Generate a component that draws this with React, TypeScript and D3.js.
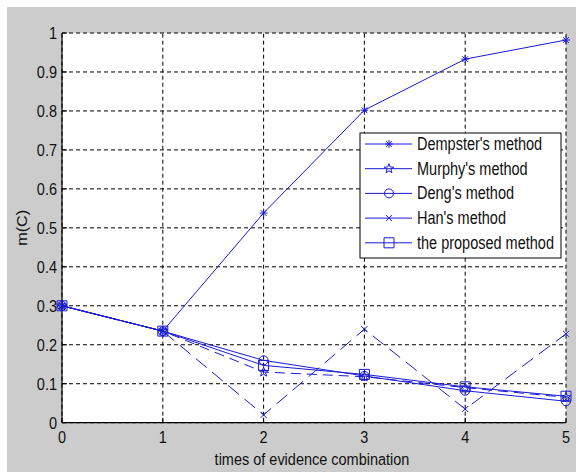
import React from "react";
import * as d3 from "d3";

const steps = [0, 1, 2, 3, 4, 5];
const yTicks = [0, 0.1, 0.2, 0.3, 0.4, 0.5, 0.6, 0.7, 0.8, 0.9, 1];
const dempster = [0.3, 0.235, 0.538, 0.802, 0.933, 0.982];
const murphy = [0.3, 0.235, 0.13, 0.118, 0.09, 0.065];
const deng = [0.3, 0.235, 0.16, 0.12, 0.082, 0.055];
const han = [0.3, 0.235, 0.02, 0.24, 0.035, 0.228];
const proposed = [0.3, 0.235, 0.147, 0.124, 0.092, 0.068];
const seriesNames = ["Dempster's method", "Murphy's method", "Deng's method", "Han's method", "the proposed method"];

const W = 576, H = 472;
const BLUE = "#1a1ad6";
const FONT = "'Liberation Sans', Arial, sans-serif";
const SY = 1.12;

function markerPath(kind: string, s: number): string {
  switch (kind) {
    case "asterisk": {
      const r = s / 2, d = r * 0.72;
      return `M0,${-r}L0,${r}M${-r},0L${r},0M${-d},${-d}L${d},${d}M${-d},${d}L${d},${-d}`;
    }
    case "x": {
      const r = s / 2;
      return `M${-r},${-r}L${r},${r}M${-r},${r}L${r},${-r}`;
    }
    case "circle": {
      const r = s / 2;
      return `M${r},0A${r},${r} 0 1,1 ${-r},0A${r},${r} 0 1,1 ${r},0Z`;
    }
    case "square": {
      const r = s / 2;
      return `M${-r},${-r}H${r}V${r}H${-r}Z`;
    }
    case "star": {
      const R = s / 2, r = R * 0.42;
      const pts: string[] = [];
      for (let i = 0; i < 10; i++) {
        const a = -Math.PI / 2 + (i * Math.PI) / 5;
        const rr = i % 2 === 0 ? R : r;
        pts.push(`${(rr * Math.cos(a)).toFixed(2)},${(rr * Math.sin(a)).toFixed(2)}`);
      }
      return "M" + pts.join("L") + "Z";
    }
  }
  return "";
}

const series = [
  { name: seriesNames[0], values: dempster, marker: "asterisk", size: 8, dash: "" },
  { name: seriesNames[1], values: murphy, marker: "star", size: 10, dash: "10,6" },
  { name: seriesNames[2], values: deng, marker: "circle", size: 9, dash: "" },
  { name: seriesNames[3], values: han, marker: "x", size: 6, dash: "14,7" },
  { name: seriesNames[4], values: proposed, marker: "square", size: 10, dash: "" },
];

export default function App() {
  const x = d3.scaleLinear().domain([0, 5]).range([62, 566]);
  const y = d3.scaleLinear().domain([0, 1]).range([422.7, 33]);
  const line = d3
    .line<number>()
    .x((_, i) => x(steps[i]))
    .y((d) => y(d));

  const legX = 360, legY = 133, legW = 201, legH = 125;
  const rowY = (i: number) => 144 + i * 24.7;

  return (
    <svg
      width={W}
      height={H}
      style={{ position: "absolute", left: 0, top: 0, display: "block" }}
      fontFamily={FONT}
    >
      <rect x={0} y={0} width={W} height={H} fill="#ffffff" />
      <rect x={7} y={7} width={W - 7} height={H - 7} fill="#cccccc" />
      <rect x={x(0)} y={y(1)} width={x(5) - x(0)} height={y(0) - y(1)} fill="#ffffff" />

      {/* grid */}
      {yTicks.map((t) => (
        <line key={"gy" + t} x1={x(0)} x2={x(5)} y1={y(t)} y2={y(t)} stroke="#000" strokeWidth={1} strokeDasharray="4,3" />
      ))}
      {steps.map((t) => (
        <line key={"gx" + t} x1={x(t)} x2={x(t)} y1={y(0)} y2={y(1)} stroke="#000" strokeWidth={1} strokeDasharray="4,3" />
      ))}

      {/* axes */}
      <line x1={x(0)} x2={x(0)} y1={y(0)} y2={y(1)} stroke="#000" strokeWidth={1.2} />
      <line x1={x(0)} x2={x(5)} y1={y(0)} y2={y(0)} stroke="#000" strokeWidth={1.2} />
      {yTicks.map((t) => (
        <line key={"ty" + t} x1={x(0)} x2={x(0) + 5} y1={y(t)} y2={y(t)} stroke="#000" />
      ))}
      {steps.map((t) => (
        <line key={"tx" + t} x1={x(t)} x2={x(t)} y1={y(0)} y2={y(0) - 5} stroke="#000" />
      ))}

      {/* tick labels */}
      {yTicks.map((t) => (
        <text
          key={"ly" + t}
          transform={`translate(${x(0) - 5},${y(t) + 6}) scale(1,${SY})`}
          textAnchor="end"
          fontSize={14.5}
          fill="#111"
        >
          {d3.format("~g")(t)}
        </text>
      ))}
      {steps.map((t) => (
        <text
          key={"lx" + t}
          transform={`translate(${x(t)},${y(0) + 20}) scale(1,${SY})`}
          textAnchor="middle"
          fontSize={14.5}
          fill="#111"
        >
          {t}
        </text>
      ))}
      <text
        transform={`translate(${(x(0) + x(5)) / 2 - 2},${465}) scale(1,${SY})`}
        textAnchor="middle"
        fontSize={14.5}
        fill="#111"
      >
        times of evidence combination
      </text>
      <text
        transform={`translate(27,${(y(0) + y(1)) / 2}) scale(1,${SY}) rotate(-90)`}
        textAnchor="middle"
        fontSize={14.5}
        fill="#111"
      >
        m(C)
      </text>

      {/* series */}
      {series.map((s) => (
        <g key={s.name}>
          <path d={line(s.values) || ""} fill="none" stroke={BLUE} strokeWidth={1} strokeDasharray={s.dash || undefined} />
          {s.values.map((v, i) => (
            <path
              key={i}
              d={markerPath(s.marker, s.size)}
              transform={`translate(${x(steps[i])},${y(v)})`}
              fill="none"
              stroke={BLUE}
              strokeWidth={1}
            />
          ))}
        </g>
      ))}

      {/* legend */}
      <rect x={legX} y={legY} width={legW} height={legH} fill="#ffffff" stroke="#000" strokeWidth={1} />
      {series.map((s, i) => (
        <g key={"leg" + s.name}>
          <line x1={365} x2={412} y1={rowY(i)} y2={rowY(i)} stroke={BLUE} strokeWidth={1} />
          <path d={markerPath(s.marker, s.size)} transform={`translate(389,${rowY(i)})`} fill="none" stroke={BLUE} strokeWidth={1} />
          <text
            transform={`translate(417,${rowY(i) + 6}) scale(0.89,${SY})`}
            fontSize={16.3}
            fill="#111"
          >
            {s.name}
          </text>
        </g>
      ))}
    </svg>
  );
}
